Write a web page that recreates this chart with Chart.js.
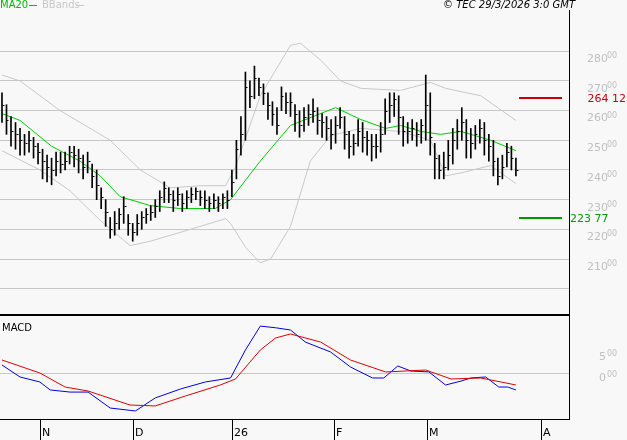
<!DOCTYPE html>
<html lang="en">
<head>
<meta charset="UTF-8">
<title>Price chart with MA20, BBands and MACD</title>
<script src="https://cdn.jsdelivr.net/npm/chart.js@4.4.1/dist/chart.umd.min.js"></script>
<style>
    body { margin: 0; background: #f8f8f8; font-family: "DejaVu Sans", Arial, sans-serif; }
    #wrap { position: relative; width: 627px; height: 440px; overflow: hidden; }
    #price { position: absolute; left: 0; top: 0; }
    #macd { position: absolute; left: 0; top: 316px; }
</style>
</head>
<body>
<div id="wrap">
    <canvas id="price" width="627" height="316"></canvas>
    <canvas id="macd" width="627" height="124"></canvas>
</div>
<script>
// bar data, one entry per trading day
var closes = [262,257,253,252,250,249,250,248,246,243,241,240,243,242,243,246,245,244,241,243,
    238,235,231,226,220,222,225,228,222,219,222,224,225,226,228,231,234,232,230,232,
    229,231,232,233,231,230,229,230,229,231,230,236,247,252,268,265,271,268,266,262,
    259,255,265,263,263,259,255,258,259,260,257,256,254,252,255,258,252,248,249,253,
    251,250,248,248,252,260,262,264,258,253,253,254,252,255,262,251,244,240,241,245,
    250,253,256,250,249,252,254,250,248,243,238,241,246,244,240];
var highs = [266,262,258,256,254,252,253,251,249,247,245,244,246,246,246,248,248,247,245,246,
    242,240,234,230,224,226,227,231,225,222,225,226,227,228,230,233,236,234,233,234,
    232,233,234,234,233,233,231,232,231,232,233,240,250,258,273,270,275,271,269,266,
    263,261,268,266,266,262,260,261,262,264,261,259,258,257,258,261,258,253,252,257,
    256,253,252,252,256,264,266,266,265,258,256,257,256,257,272,266,249,245,246,250,
    254,257,261,257,254,255,257,256,252,250,244,245,249,248,244];
var lows = [256,252,248,247,245,245,246,244,242,237,236,235,238,239,240,242,241,239,237,239,
    234,230,227,221,217,218,220,222,218,216,218,220,222,223,224,226,229,229,226,228,
    226,227,229,230,228,227,226,227,226,227,227,231,237,245,250,261,264,265,262,257,
    255,252,260,259,258,253,251,253,255,256,252,251,250,247,249,254,247,244,245,248,
    246,245,243,244,246,252,256,258,252,248,249,250,248,249,250,245,237,237,237,240,
    242,247,250,244,244,247,249,245,243,238,235,237,241,240,238];

// indicator lines as [bar index, value]
var ma20 = [[0,259],[4,256.7],[11,248],[17.3,243],[21.8,238],[26.2,231],[32.9,228],[39.6,227],
    [47.3,227],[50.7,230],[57.3,243],[64,255],[74,261],[79.6,257],[85.1,254],[88.4,255],
    [92.9,253],[97.3,252],[101.8,253],[108.4,250],[114,246.5]];
var bbUpper = [[0,272],[4,270],[12.9,260],[20.7,253],[24,250],[30.7,240],[37.3,234],[44,234.7],
    [49.6,234.7],[51.8,241],[57.3,265],[64,282],[66.2,282.7],[70.7,277],[75.1,270],[79.6,267.5],
    [88.4,266.8],[95.1,269.5],[98.4,267.5],[106.2,265],[114,256.7]];
var bbLower = [[0,246.5],[8.4,240],[15.1,233],[21.8,223],[28.4,214.5],[32.9,216],[41.8,220],
    [49.6,223.6],[50.7,222],[54,214],[57.3,208.7],[59.6,210],[64,221],[68.4,243],[72.9,251.6],
    [79.6,254],[88.4,253],[95.1,250],[98.4,238],[101.8,239],[108.4,241.5],[114,235.4]];
var macdLine = [[0,214],[4,-71],[8.4,-190],[10.7,-380],[15.1,-430],[19.1,-430],[24,-810],[29.6,-880],
    [34,-570],[39.6,-357],[45.1,-190],[50.7,-95],[54,570],[57.3,1140],[60.7,1100],[64,1047],
    [67.3,760],[72.9,523],[77.3,167],[82.2,-95],[84.7,-95],[87.8,190],[90.7,71],[94.7,50],
    [98.4,-262],[101.8,-170],[104,-95],[107.3,-71],[110.2,-310],[112.2,-310],[114,-380]];
var signalLine = [[0,333],[8.4,24],[14,-310],[19.1,-405],[28.4,-738],[34,-760],[40.7,-524],
    [48.4,-262],[51.8,-119],[57.3,571],[60.7,857],[64,952],[70.7,760],[77.3,333],[85.1,48],
    [94,95],[99.6,-119],[106.2,-95],[110.7,-190],[114,-262]];

var yTicks = [200, 210, 220, 230, 240, 250, 260, 270, 280];
var macdTicks = [0, 500];
var monthTicks = [[8.4,'N'],[29.1,'D'],[51.1,'26'],[73.6,'F'],[94.2,'M'],[119.6,'A']];
var levelHigh = 264.12, levelLow = 223.77;

var xMin = -0.44, xMax = 126;

function pts(arr) { return arr.map(function (p) { return {x: p[0], y: p[1]}; }); }

var pricePlugin = {
    id: 'priceDecor',
    afterDatasetsDraw: function (chart) {
        var c = chart.ctx, x = chart.scales.x, y = chart.scales.y;
        // close ticks
        c.strokeStyle = '#000'; c.lineWidth = 1;
        closes.forEach(function (v, i) {
            var px = Math.round(x.getPixelForValue(i)) + 0.5, py = Math.round(y.getPixelForValue(v)) + 0.5;
            c.beginPath(); c.moveTo(px, py); c.lineTo(px + 2, py); c.stroke();
        });
        // level lines
        c.font = '11px "DejaVu Sans"'; c.textBaseline = 'middle';
        var py = Math.round(y.getPixelForValue(levelHigh));
        c.fillStyle = '#cc0000'; c.fillRect(519, py - 1, 43, 2);
        c.textAlign = 'right'; c.fillText('264 12', 626, py + 1);
        py = Math.round(y.getPixelForValue(levelLow));
        c.fillStyle = '#009900'; c.fillRect(519, py - 1, 43, 2);
        c.textAlign = 'left'; c.fillText('223 77', 570, py + 1);
        // right axis labels
        c.fillStyle = '#c0c0c0';
        yTicks.forEach(function (t) {
            if (t === 200) return;
            var ty = y.getPixelForValue(t);
            c.font = '11px "DejaVu Sans"'; c.fillText(String(t), 587, ty + 8);
            c.font = '8px "DejaVu Sans"'; c.fillText('00', 607, ty + 5);
        });
        // borders
        c.fillStyle = '#000';
        c.fillRect(569, 10, 1, 306);
        c.fillRect(0, 314, 570, 2);
        // legend and header
        c.font = '10px "DejaVu Sans"';
        c.fillStyle = '#00bb00'; c.fillText('MA20', 0, 5); c.fillRect(29, 5, 8, 1);
        c.fillStyle = '#c8c8c8'; c.fillText('BBands', 42, 5); c.fillRect(76, 5, 8, 1);
        c.fillStyle = '#000'; c.font = 'italic 10px "DejaVu Sans"';
        c.textAlign = 'right'; c.fillText('\u00a9 TEC 29/3/2026 3:0 GMT', 575, 5);
        c.textAlign = 'left';
    }
};

new Chart(document.getElementById('price'), {
    data: {
        datasets: [
            {type: 'bar', data: lows.map(function (l, i) { return {x: i, y: [l, highs[i]]}; }),
                backgroundColor: '#000', barThickness: 1, order: 1},
            {type: 'line', data: pts(ma20), borderColor: '#00cc00', borderWidth: 1, pointRadius: 0, order: 2},
            {type: 'line', data: pts(bbUpper), borderColor: '#c8c8c8', borderWidth: 1, pointRadius: 0, order: 3},
            {type: 'line', data: pts(bbLower), borderColor: '#c8c8c8', borderWidth: 1, pointRadius: 0, order: 3}
        ]
    },
    options: {
        responsive: false, animation: false,
        layout: {padding: {top: 10, right: 57, left: 0, bottom: 0}},
        plugins: {legend: {display: false}, tooltip: {enabled: false}},
        scales: {
            x: {type: 'linear', min: xMin, max: xMax, display: false, offset: false, grid: {offset: false}},
            y: {min: 190.8, max: 293.9, position: 'right',
                afterBuildTicks: function (s) { s.ticks = yTicks.map(function (v) { return {value: v}; }); },
                ticks: {display: false}, border: {display: false},
                grid: {color: '#c8c8c8', drawTicks: false}}
        }
    },
    plugins: [pricePlugin]
});

var macdPlugin = {
    id: 'macdDecor',
    afterDatasetsDraw: function (chart) {
        var c = chart.ctx, x = chart.scales.x, y = chart.scales.y;
        c.fillStyle = '#000';
        c.fillRect(569, 0, 1, 104);
        c.fillRect(0, 103, 570, 1);
        c.font = '10px "DejaVu Sans"'; c.textBaseline = 'middle'; c.textAlign = 'left';
        c.fillText('MACD', 2, 12);
        monthTicks.forEach(function (m) {
            var px = Math.round(x.getPixelForValue(m[0]));
            c.fillRect(px, 104, 1, 20);
            c.font = '11px "DejaVu Sans"'; c.fillText(m[1], px + 2, 117);
        });
        c.fillStyle = '#c0c0c0';
        macdTicks.forEach(function (t) {
            var py = y.getPixelForValue(t);
            c.font = '11px "DejaVu Sans"'; c.fillText(t === 0 ? '0' : '5', 599, py + 4);
            c.font = '8px "DejaVu Sans"'; c.fillText('00', 607, py + 1);
        });
    }
};

new Chart(document.getElementById('macd'), {
    data: {
        datasets: [
            {type: 'line', data: pts(signalLine), borderColor: '#dd0000', borderWidth: 1, pointRadius: 0},
            {type: 'line', data: pts(macdLine), borderColor: '#0000dd', borderWidth: 1, pointRadius: 0}
        ]
    },
    options: {
        responsive: false, animation: false,
        layout: {padding: {top: 0, right: 57, left: 0, bottom: 21}},
        plugins: {legend: {display: false}, tooltip: {enabled: false}},
        scales: {
            x: {type: 'linear', min: xMin, max: xMax, display: false},
            y: {min: -1071, max: 1380, position: 'right',
                afterBuildTicks: function (s) { s.ticks = [{value: 0}]; },
                ticks: {display: false}, border: {display: false},
                grid: {color: '#c8c8c8', drawTicks: false}}
        }
    },
    plugins: [macdPlugin]
});
</script>
</body>
</html>
